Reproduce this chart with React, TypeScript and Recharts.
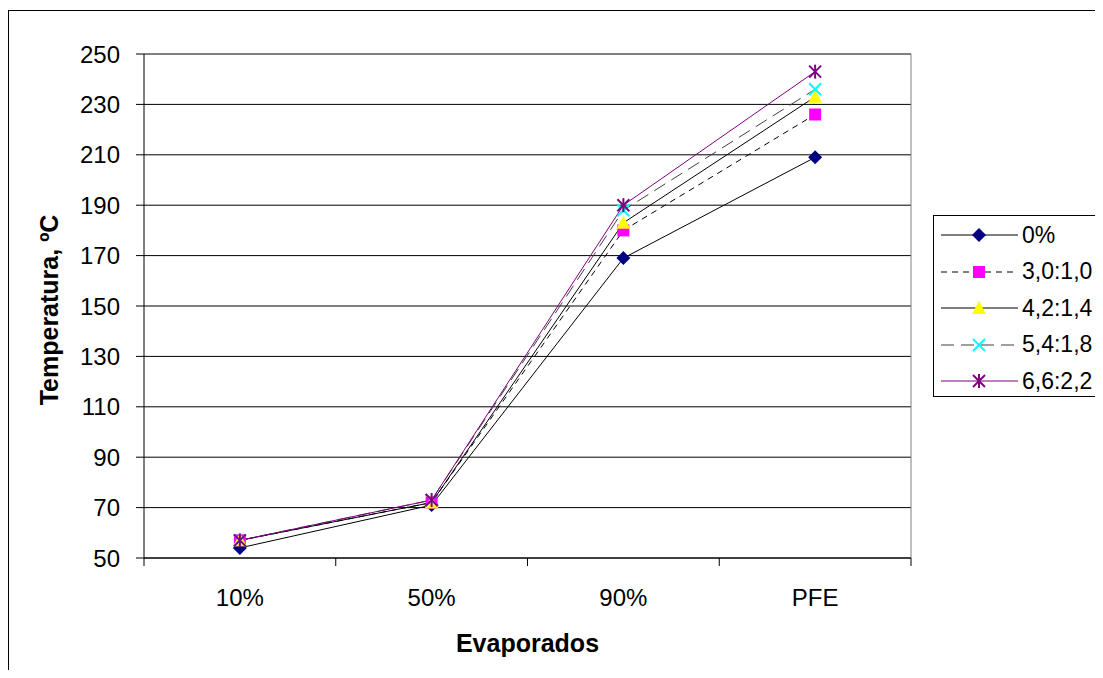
import React from 'react';
import { LineChart, Line, XAxis, YAxis, CartesianGrid, Legend, Label } from 'recharts';

const categories = ['10%', '50%', '90%', 'PFE'];
const serieNames = ['0%', '3,0:1,0', '4,2:1,4', '5,4:1,8', '6,6:2,2'];
const s0 = [54, 71, 169, 209];
const s30 = [57, 72, 180, 226];
const s42 = [57, 72, 183, 233];
const s54 = [57, 73, 188, 236];
const s66 = [57, 73, 190, 243];
const yTicks = [50, 70, 90, 110, 130, 150, 170, 190, 210, 230, 250];

const valores = [s0, s30, s42, s54, s66];
const data = categories.map((cat, i) => {
  const row: Record<string, string | number> = { cat };
  serieNames.forEach((n, k) => { row[n] = valores[k][i]; });
  return row;
});

const FONT = '"Liberation Sans", Arial, sans-serif';
const BAND = 767 / categories.length;

const estilos = [
  { stroke: '#000000', dash: undefined, marker: 'diamond' },
  { stroke: '#000000', dash: '6 5', marker: 'square' },
  { stroke: '#000000', dash: undefined, marker: 'triangle' },
  { stroke: '#404040', dash: '13 7', marker: 'x' },
  { stroke: '#800080', dash: undefined, marker: 'star' },
];

function Marker({ type, cx, cy }: { type: string; cx: number; cy: number }) {
  if (type === 'diamond')
    return <polygon points={`${cx},${cy - 7} ${cx + 7},${cy} ${cx},${cy + 7} ${cx - 7},${cy}`} fill="#000080" />;
  if (type === 'square')
    return <rect x={cx - 6} y={cy - 6} width={12} height={12} fill="#FF00FF" />;
  if (type === 'triangle')
    return <polygon points={`${cx},${cy - 7} ${cx + 7},${cy + 6} ${cx - 7},${cy + 6}`} fill="#FFFF00" />;
  if (type === 'x')
    return (
      <g stroke="#00FFFF" strokeWidth={2}>
        <line x1={cx - 6} y1={cy - 6} x2={cx + 6} y2={cy + 6} />
        <line x1={cx - 6} y1={cy + 6} x2={cx + 6} y2={cy - 6} />
      </g>
    );
  return (
    <g stroke="#800080" strokeWidth={2}>
      <line x1={cx - 6} y1={cy - 6} x2={cx + 6} y2={cy + 6} />
      <line x1={cx - 6} y1={cy + 6} x2={cx + 6} y2={cy - 6} />
      <line x1={cx} y1={cy - 7} x2={cx} y2={cy + 7} />
    </g>
  );
}

function XTick(props: any) {
  const { x, y, payload, index } = props;
  return (
    <g>
      <line x1={x - BAND / 2} y1={y - 8} x2={x - BAND / 2} y2={y} stroke="#000" />
      {index === categories.length - 1 && (
        <line x1={x + BAND / 2} y1={y - 8} x2={x + BAND / 2} y2={y} stroke="#000" />
      )}
      <text x={x} y={y + 39.6} textAnchor="middle" fontSize={24} fontFamily={FONT} fill="#000">
        {payload.value}
      </text>
    </g>
  );
}

// legend box runs off the right edge in the original, so no right border
function LegendBox() {
  return (
    <div
      style={{
        width: 162,
        height: 182,
        borderLeft: '1px solid #000',
        borderTop: '1px solid #000',
        borderBottom: '1px solid #000',
        boxSizing: 'border-box',
        background: '#fff',
        paddingTop: 1,
        fontFamily: FONT,
        fontSize: 23,
      }}
    >
      {serieNames.map((n, k) => (
        <div key={n} style={{ height: 36.5, display: 'flex', alignItems: 'center', whiteSpace: 'nowrap' }}>
          <svg width={88} height={20} style={{ flex: 'none' }}>
            <line x1={7} y1={10} x2={84} y2={10} stroke={estilos[k].stroke} strokeDasharray={estilos[k].dash} />
            <Marker type={estilos[k].marker} cx={45} cy={10} />
          </svg>
          <span>{n}</span>
        </div>
      ))}
    </div>
  );
}

export default function App() {
  return (
    <div style={{ position: 'relative', width: 1087, height: 662 }}>
      <div
        style={{
          position: 'absolute',
          left: 0,
          top: 2,
          width: 1095,
          height: 668,
          boxSizing: 'border-box',
          borderLeft: '1px solid #000',
          borderTop: '1px solid #000',
        }}
      />
      <div style={{ position: 'absolute', left: 0, top: 0 }}>
        <LineChart width={1087} height={662} data={data} margin={{ top: 46, right: 184, bottom: 52, left: 36 }}>
          <CartesianGrid horizontal vertical={false} stroke="#000" />
          <CartesianGrid
            stroke="#808080"
            horizontalCoordinatesGenerator={({ offset }: any) => [offset.top]}
            verticalCoordinatesGenerator={({ offset }: any) => [offset.left + offset.width]}
          />
          <XAxis
            dataKey="cat"
            scale="band"
            height={60}
            tickLine={false}
            tickSize={8}
            tickMargin={0}
            axisLine={{ stroke: '#000' }}
            tick={<XTick />}
            interval={0}
          >
            <Label
              content={({ viewBox }: any) => (
                <text
                  x={viewBox.x + viewBox.width / 2}
                  y={viewBox.y + 93.5}
                  textAnchor="middle"
                  fontSize={25}
                  fontWeight="bold"
                  fontFamily={FONT}
                  fill="#000"
                >
                  Evaporados
                </text>
              )}
            />
          </XAxis>
          <YAxis
            type="number"
            domain={[50, 250]}
            ticks={yTicks}
            interval={0}
            width={100}
            tickSize={8}
            tickMargin={16}
            axisLine={{ stroke: '#000' }}
            tickLine={{ stroke: '#000' }}
            tick={{ fontSize: 24, fontFamily: FONT, fill: '#000' }}
          >
            <Label
              content={({ viewBox }: any) => {
                const cx = viewBox.x + 14;
                const cy = viewBox.y + viewBox.height / 2 + 4;
                return (
                  <text
                    x={cx}
                    y={cy}
                    transform={`rotate(-90 ${cx} ${cy})`}
                    textAnchor="middle"
                    fontSize={25}
                    fontWeight="bold"
                    fontFamily={FONT}
                    fill="#000"
                  >
                    Temperatura, ºC
                  </text>
                );
              }}
            />
          </YAxis>
          {serieNames.map((n, k) => (
            <Line
              key={n}
              dataKey={n}
              type="linear"
              stroke={estilos[k].stroke}
              strokeWidth={1}
              strokeDasharray={estilos[k].dash}
              isAnimationActive={false}
              activeDot={false}
              dot={(p: any) => <Marker key={`${n}-${p.index}`} type={estilos[k].marker} cx={p.cx} cy={p.cy} />}
            />
          ))}
          <Legend
            layout="vertical"
            align="center"
            verticalAlign="middle"
            wrapperStyle={{ position: 'absolute', left: 925, top: 207, width: 162 }}
            content={() => <LegendBox />}
          />
        </LineChart>
      </div>
    </div>
  );
}
